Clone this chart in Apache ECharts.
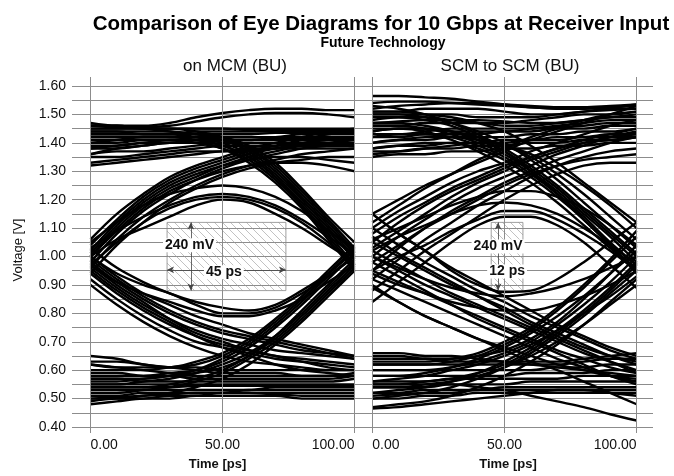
<!DOCTYPE html>
<html>
<head>
<meta charset="utf-8">
<script src="https://cdn.jsdelivr.net/npm/echarts@6/dist/echarts.min.js"></script>
<style>
html, body { margin: 0; padding: 0; background: #fff; }
#main { width: 674px; height: 476px; }
</style>
</head>
<body>
<div id="main"></div>
<script>
var myChart = echarts.init(document.getElementById('main'));

// sample times of every trace, ps
var timePs = [0, 10, 20, 30, 40, 50, 60, 70, 80, 90, 100];
var timeTicks = [0, 50, 100];

// ---- on MCM (BU) : traces, volts at timePs ----
var mcmHigh = [
    [1.47, 1.46, 1.46, 1.47, 1.49, 1.505, 1.515, 1.52, 1.52, 1.515, 1.515],
    [1.46, 1.455, 1.455, 1.46, 1.475, 1.49, 1.50, 1.505, 1.505, 1.50, 1.49],
    [1.45, 1.45, 1.45, 1.45, 1.45, 1.45, 1.45, 1.45, 1.45, 1.45, 1.45],
    [1.46, 1.46, 1.45, 1.45, 1.45, 1.45, 1.445, 1.445, 1.445, 1.445, 1.445],
    [1.44, 1.44, 1.43, 1.43, 1.44, 1.44, 1.44, 1.44, 1.44, 1.44, 1.44],
    [1.43, 1.43, 1.43, 1.43, 1.43, 1.43, 1.43, 1.435, 1.435, 1.435, 1.435],
    [1.42, 1.42, 1.42, 1.42, 1.42, 1.42, 1.42, 1.42, 1.43, 1.43, 1.43],
    [1.40, 1.40, 1.41, 1.41, 1.41, 1.42, 1.42, 1.42, 1.42, 1.42, 1.42],
    [1.39, 1.39, 1.40, 1.40, 1.41, 1.41, 1.41, 1.415, 1.415, 1.415, 1.415],
    [1.38, 1.38, 1.39, 1.40, 1.40, 1.41, 1.41, 1.41, 1.41, 1.41, 1.41],
    [1.36, 1.37, 1.37, 1.38, 1.39, 1.40, 1.40, 1.40, 1.40, 1.40, 1.40],
    [1.35, 1.35, 1.36, 1.37, 1.38, 1.39, 1.39, 1.39, 1.395, 1.395, 1.395],
    [1.33, 1.34, 1.35, 1.36, 1.37, 1.37, 1.38, 1.38, 1.39, 1.39, 1.39],
    [1.32, 1.33, 1.34, 1.35, 1.36, 1.37, 1.37, 1.38, 1.38, 1.38, 1.38]
];
var mcmFallIn = [
    [1.45, 1.45, 1.45, 1.45, 1.44, 1.42, 1.38, 1.31, 1.22, 1.12, 1.02],
    [1.43, 1.43, 1.43, 1.43, 1.42, 1.40, 1.36, 1.29, 1.20, 1.10, 1.00],
    [1.46, 1.46, 1.45, 1.44, 1.43, 1.41, 1.37, 1.30, 1.21, 1.11, 1.01],
    [1.40, 1.41, 1.42, 1.42, 1.41, 1.39, 1.35, 1.28, 1.19, 1.09, 0.99],
    [1.38, 1.39, 1.40, 1.41, 1.41, 1.39, 1.35, 1.28, 1.18, 1.08, 0.97],
    [1.44, 1.44, 1.44, 1.44, 1.43, 1.42, 1.39, 1.33, 1.24, 1.14, 1.05],
    [1.36, 1.38, 1.39, 1.40, 1.40, 1.38, 1.33, 1.26, 1.17, 1.06, 0.95],
    [1.42, 1.42, 1.42, 1.42, 1.42, 1.41, 1.38, 1.32, 1.23, 1.13, 1.03],
    [1.41, 1.41, 1.41, 1.41, 1.40, 1.38, 1.34, 1.27, 1.18, 1.07, 0.96]
];
var mcmRiseOut = [
    [1.02, 1.12, 1.20, 1.26, 1.30, 1.33, 1.36, 1.38, 1.40, 1.41, 1.42],
    [1.00, 1.10, 1.18, 1.24, 1.28, 1.32, 1.35, 1.37, 1.39, 1.40, 1.41],
    [0.98, 1.08, 1.16, 1.22, 1.27, 1.31, 1.34, 1.36, 1.38, 1.39, 1.40],
    [1.04, 1.13, 1.21, 1.27, 1.31, 1.34, 1.37, 1.39, 1.41, 1.43, 1.44],
    [0.96, 1.06, 1.14, 1.20, 1.25, 1.29, 1.32, 1.34, 1.36, 1.37, 1.38],
    [1.06, 1.15, 1.22, 1.28, 1.32, 1.35, 1.38, 1.40, 1.42, 1.44, 1.45],
    [0.94, 1.04, 1.12, 1.19, 1.24, 1.28, 1.31, 1.33, 1.34, 1.35, 1.35],
    [1.00, 1.09, 1.17, 1.23, 1.27, 1.30, 1.32, 1.33, 1.33, 1.32, 1.30],
    [1.01, 1.11, 1.19, 1.25, 1.29, 1.32, 1.34, 1.35, 1.35, 1.34, 1.33]
];
var mcmTopArc = [
    [1.00, 1.06, 1.10, 1.14, 1.18, 1.20, 1.19, 1.15, 1.10, 1.04, 0.98],
    [1.03, 1.09, 1.14, 1.18, 1.21, 1.22, 1.21, 1.18, 1.13, 1.07, 1.01],
    [0.97, 1.05, 1.12, 1.17, 1.20, 1.21, 1.20, 1.17, 1.12, 1.05, 0.97],
    [1.05, 1.12, 1.18, 1.22, 1.24, 1.25, 1.24, 1.21, 1.16, 1.09, 1.03]
];
var mcmFallOut = [
    [0.98, 0.91, 0.85, 0.80, 0.76, 0.73, 0.71, 0.69, 0.67, 0.66, 0.65],
    [0.96, 0.89, 0.83, 0.78, 0.74, 0.71, 0.69, 0.67, 0.66, 0.65, 0.64],
    [1.00, 0.93, 0.87, 0.83, 0.79, 0.76, 0.73, 0.71, 0.69, 0.67, 0.65],
    [0.94, 0.87, 0.81, 0.76, 0.72, 0.69, 0.67, 0.65, 0.64, 0.63, 0.62],
    [0.92, 0.85, 0.79, 0.74, 0.70, 0.68, 0.66, 0.64, 0.63, 0.62, 0.61],
    [0.97, 0.90, 0.84, 0.78, 0.73, 0.70, 0.67, 0.65, 0.63, 0.61, 0.60],
    [0.95, 0.88, 0.82, 0.77, 0.72, 0.68, 0.65, 0.62, 0.60, 0.59, 0.58],
    [0.90, 0.83, 0.77, 0.72, 0.68, 0.65, 0.63, 0.62, 0.61, 0.60, 0.60],
    [0.99, 0.92, 0.86, 0.81, 0.77, 0.74, 0.72, 0.70, 0.68, 0.66, 0.64]
];
var mcmRiseIn = [
    [0.55, 0.55, 0.56, 0.57, 0.59, 0.62, 0.66, 0.72, 0.80, 0.89, 0.98],
    [0.58, 0.58, 0.58, 0.59, 0.60, 0.63, 0.68, 0.75, 0.83, 0.92, 1.01],
    [0.52, 0.52, 0.53, 0.54, 0.56, 0.59, 0.64, 0.70, 0.78, 0.87, 0.96],
    [0.60, 0.60, 0.60, 0.61, 0.62, 0.65, 0.70, 0.77, 0.85, 0.94, 1.03],
    [0.54, 0.54, 0.54, 0.55, 0.57, 0.60, 0.65, 0.71, 0.79, 0.88, 0.97],
    [0.62, 0.61, 0.61, 0.61, 0.63, 0.66, 0.71, 0.78, 0.86, 0.95, 1.04],
    [0.50, 0.50, 0.51, 0.52, 0.54, 0.57, 0.62, 0.69, 0.77, 0.86, 0.95],
    [0.56, 0.56, 0.57, 0.58, 0.60, 0.64, 0.69, 0.76, 0.84, 0.93, 1.00],
    [0.57, 0.57, 0.57, 0.58, 0.59, 0.61, 0.65, 0.72, 0.81, 0.90, 0.99]
];
var mcmBottomArc = [
    [1.00, 0.94, 0.90, 0.87, 0.83, 0.80, 0.80, 0.82, 0.87, 0.93, 1.00],
    [0.97, 0.91, 0.87, 0.84, 0.81, 0.79, 0.79, 0.81, 0.85, 0.91, 0.97],
    [1.03, 0.96, 0.91, 0.87, 0.84, 0.82, 0.81, 0.83, 0.88, 0.94, 1.02]
];
var mcmLow = [
    [0.48, 0.49, 0.50, 0.50, 0.51, 0.51, 0.51, 0.51, 0.50, 0.50, 0.50],
    [0.49, 0.50, 0.50, 0.51, 0.51, 0.52, 0.52, 0.52, 0.52, 0.52, 0.52],
    [0.50, 0.505, 0.51, 0.515, 0.52, 0.52, 0.52, 0.515, 0.51, 0.51, 0.51],
    [0.51, 0.51, 0.52, 0.52, 0.52, 0.52, 0.53, 0.53, 0.53, 0.53, 0.53],
    [0.53, 0.53, 0.53, 0.53, 0.53, 0.53, 0.53, 0.54, 0.54, 0.54, 0.54],
    [0.54, 0.54, 0.54, 0.54, 0.545, 0.545, 0.545, 0.545, 0.545, 0.545, 0.545],
    [0.55, 0.55, 0.55, 0.55, 0.55, 0.55, 0.55, 0.55, 0.55, 0.55, 0.55],
    [0.57, 0.57, 0.56, 0.56, 0.56, 0.56, 0.56, 0.56, 0.56, 0.56, 0.57],
    [0.59, 0.59, 0.58, 0.58, 0.57, 0.57, 0.57, 0.57, 0.57, 0.57, 0.58],
    [0.62, 0.61, 0.60, 0.59, 0.58, 0.58, 0.58, 0.58, 0.58, 0.58, 0.59],
    [0.65, 0.64, 0.62, 0.61, 0.60, 0.59, 0.59, 0.59, 0.58, 0.58, 0.58],
    [0.63, 0.63, 0.62, 0.61, 0.61, 0.60, 0.60, 0.60, 0.60, 0.60, 0.60]
];

// ---- SCM to SCM (BU) ----
var scmHigh = [
    [1.565, 1.565, 1.56, 1.555, 1.545, 1.535, 1.525, 1.52, 1.52, 1.525, 1.53],
    [1.54, 1.545, 1.545, 1.54, 1.535, 1.53, 1.525, 1.52, 1.52, 1.525, 1.535],
    [1.52, 1.53, 1.535, 1.54, 1.54, 1.535, 1.53, 1.525, 1.525, 1.53, 1.535],
    [1.51, 1.51, 1.52, 1.52, 1.52, 1.51, 1.50, 1.50, 1.51, 1.515, 1.52],
    [1.50, 1.50, 1.50, 1.50, 1.49, 1.49, 1.49, 1.50, 1.51, 1.52, 1.52],
    [1.48, 1.49, 1.49, 1.48, 1.47, 1.47, 1.48, 1.49, 1.50, 1.50, 1.51],
    [1.47, 1.475, 1.48, 1.48, 1.48, 1.475, 1.47, 1.47, 1.48, 1.49, 1.50],
    [1.46, 1.46, 1.47, 1.47, 1.47, 1.46, 1.46, 1.47, 1.48, 1.49, 1.49],
    [1.44, 1.45, 1.45, 1.44, 1.44, 1.44, 1.45, 1.46, 1.47, 1.48, 1.48],
    [1.43, 1.43, 1.44, 1.45, 1.45, 1.45, 1.45, 1.455, 1.46, 1.47, 1.47],
    [1.42, 1.42, 1.43, 1.43, 1.43, 1.44, 1.44, 1.45, 1.45, 1.46, 1.46],
    [1.40, 1.41, 1.41, 1.42, 1.42, 1.42, 1.43, 1.43, 1.44, 1.44, 1.45],
    [1.38, 1.39, 1.39, 1.40, 1.40, 1.41, 1.41, 1.42, 1.42, 1.43, 1.43],
    [1.37, 1.37, 1.38, 1.39, 1.40, 1.40, 1.41, 1.41, 1.42, 1.42, 1.42],
    [1.36, 1.37, 1.38, 1.38, 1.39, 1.39, 1.40, 1.40, 1.41, 1.41, 1.42],
    [1.35, 1.36, 1.36, 1.37, 1.37, 1.38, 1.38, 1.39, 1.39, 1.40, 1.40]
];
var scmFallIn = [
    [1.50, 1.50, 1.49, 1.47, 1.44, 1.40, 1.34, 1.27, 1.19, 1.11, 1.03],
    [1.47, 1.47, 1.46, 1.44, 1.41, 1.37, 1.31, 1.24, 1.16, 1.08, 1.00],
    [1.44, 1.45, 1.45, 1.44, 1.42, 1.39, 1.35, 1.29, 1.22, 1.14, 1.06],
    [1.53, 1.52, 1.50, 1.47, 1.43, 1.38, 1.32, 1.25, 1.17, 1.09, 1.01],
    [1.42, 1.43, 1.43, 1.42, 1.39, 1.35, 1.29, 1.22, 1.14, 1.05, 0.97],
    [1.46, 1.46, 1.45, 1.43, 1.40, 1.36, 1.30, 1.23, 1.15, 1.07, 0.98],
    [1.40, 1.41, 1.42, 1.42, 1.41, 1.39, 1.36, 1.31, 1.25, 1.18, 1.10],
    [1.38, 1.39, 1.40, 1.40, 1.38, 1.34, 1.28, 1.21, 1.13, 1.04, 0.95],
    [1.49, 1.49, 1.48, 1.46, 1.42, 1.37, 1.30, 1.22, 1.13, 1.04, 0.94],
    [1.45, 1.45, 1.44, 1.41, 1.37, 1.32, 1.26, 1.19, 1.11, 1.03, 0.96],
    [1.51, 1.51, 1.50, 1.49, 1.47, 1.44, 1.39, 1.33, 1.26, 1.19, 1.12]
];
var scmRiseOut = [
    [1.05, 1.12, 1.18, 1.23, 1.27, 1.31, 1.35, 1.38, 1.41, 1.43, 1.45],
    [1.10, 1.16, 1.21, 1.26, 1.30, 1.33, 1.37, 1.40, 1.43, 1.46, 1.48],
    [1.00, 1.07, 1.13, 1.19, 1.24, 1.28, 1.32, 1.36, 1.39, 1.42, 1.44],
    [0.95, 1.03, 1.10, 1.16, 1.21, 1.26, 1.30, 1.34, 1.37, 1.40, 1.42],
    [1.15, 1.20, 1.25, 1.29, 1.33, 1.37, 1.41, 1.44, 1.47, 1.50, 1.53],
    [0.92, 0.99, 1.06, 1.12, 1.18, 1.23, 1.28, 1.32, 1.35, 1.37, 1.38],
    [1.08, 1.14, 1.19, 1.24, 1.28, 1.32, 1.35, 1.38, 1.40, 1.41, 1.42],
    [0.98, 1.04, 1.10, 1.15, 1.20, 1.25, 1.29, 1.32, 1.34, 1.35, 1.36],
    [1.12, 1.18, 1.24, 1.29, 1.34, 1.38, 1.42, 1.45, 1.48, 1.50, 1.51],
    [0.88, 0.95, 1.02, 1.08, 1.14, 1.20, 1.25, 1.29, 1.32, 1.33, 1.33],
    [1.03, 1.09, 1.15, 1.21, 1.26, 1.30, 1.34, 1.37, 1.40, 1.42, 1.43]
];
var scmTopArc = [
    [0.84, 0.91, 0.98, 1.05, 1.11, 1.14, 1.14, 1.11, 1.05, 0.97, 0.89],
    [0.95, 1.00, 1.04, 1.09, 1.13, 1.16, 1.16, 1.13, 1.08, 1.02, 0.95],
    [1.02, 1.07, 1.11, 1.15, 1.18, 1.19, 1.18, 1.15, 1.10, 1.04, 0.97],
    [1.06, 1.10, 1.14, 1.18, 1.21, 1.23, 1.23, 1.21, 1.17, 1.11, 1.04]
];
var scmFallOut = [
    [1.00, 0.95, 0.90, 0.86, 0.82, 0.78, 0.74, 0.70, 0.66, 0.63, 0.60],
    [1.05, 1.00, 0.95, 0.90, 0.86, 0.82, 0.77, 0.73, 0.69, 0.65, 0.62],
    [0.95, 0.91, 0.87, 0.83, 0.79, 0.75, 0.71, 0.67, 0.64, 0.61, 0.59],
    [1.10, 1.04, 0.98, 0.93, 0.88, 0.84, 0.79, 0.75, 0.71, 0.67, 0.64],
    [0.92, 0.88, 0.84, 0.80, 0.76, 0.72, 0.68, 0.64, 0.61, 0.58, 0.56],
    [1.15, 1.08, 1.02, 0.96, 0.91, 0.86, 0.81, 0.76, 0.72, 0.68, 0.65],
    [0.98, 0.93, 0.88, 0.83, 0.78, 0.74, 0.70, 0.66, 0.62, 0.58, 0.55],
    [1.02, 0.97, 0.92, 0.87, 0.83, 0.79, 0.75, 0.71, 0.67, 0.63, 0.59],
    [0.89, 0.84, 0.79, 0.75, 0.71, 0.67, 0.63, 0.60, 0.56, 0.52, 0.48],
    [0.90, 0.84, 0.79, 0.75, 0.71, 0.68, 0.65, 0.62, 0.60, 0.58, 0.57],
    [1.07, 1.01, 0.96, 0.91, 0.86, 0.81, 0.76, 0.72, 0.68, 0.65, 0.63]
];
var scmRiseIn = [
    [0.55, 0.55, 0.56, 0.57, 0.59, 0.62, 0.67, 0.73, 0.80, 0.88, 0.97],
    [0.60, 0.60, 0.60, 0.61, 0.63, 0.66, 0.70, 0.76, 0.83, 0.91, 1.00],
    [0.52, 0.53, 0.54, 0.56, 0.59, 0.63, 0.68, 0.74, 0.81, 0.89, 0.98],
    [0.65, 0.65, 0.64, 0.64, 0.65, 0.67, 0.71, 0.77, 0.85, 0.94, 1.04],
    [0.58, 0.58, 0.59, 0.61, 0.64, 0.68, 0.73, 0.79, 0.86, 0.94, 1.02],
    [0.50, 0.51, 0.52, 0.54, 0.57, 0.61, 0.66, 0.72, 0.79, 0.87, 0.95],
    [0.62, 0.62, 0.62, 0.63, 0.65, 0.69, 0.74, 0.81, 0.89, 0.98, 1.07],
    [0.56, 0.57, 0.58, 0.60, 0.62, 0.65, 0.69, 0.74, 0.80, 0.86, 0.93],
    [0.54, 0.54, 0.55, 0.56, 0.58, 0.61, 0.65, 0.70, 0.76, 0.83, 0.90],
    [0.47, 0.48, 0.49, 0.51, 0.54, 0.58, 0.63, 0.69, 0.76, 0.84, 0.92],
    [0.63, 0.63, 0.63, 0.64, 0.66, 0.70, 0.75, 0.82, 0.90, 0.99, 1.09]
];
var scmBottomArc = [
    [1.15, 1.08, 1.02, 0.95, 0.90, 0.875, 0.88, 0.92, 0.98, 1.05, 1.12],
    [1.00, 0.96, 0.92, 0.89, 0.87, 0.86, 0.87, 0.89, 0.92, 0.96, 1.00],
    [0.94, 0.90, 0.87, 0.84, 0.82, 0.81, 0.81, 0.83, 0.86, 0.90, 0.95]
];
var scmLow = [
    [0.465, 0.47, 0.48, 0.49, 0.50, 0.51, 0.52, 0.53, 0.53, 0.52, 0.51],
    [0.50, 0.50, 0.51, 0.51, 0.52, 0.52, 0.52, 0.52, 0.52, 0.52, 0.52],
    [0.51, 0.515, 0.52, 0.52, 0.53, 0.53, 0.53, 0.53, 0.53, 0.53, 0.53],
    [0.52, 0.52, 0.53, 0.53, 0.53, 0.54, 0.54, 0.54, 0.54, 0.54, 0.54],
    [0.54, 0.54, 0.54, 0.55, 0.55, 0.55, 0.56, 0.56, 0.56, 0.56, 0.56],
    [0.56, 0.56, 0.56, 0.57, 0.57, 0.57, 0.57, 0.57, 0.58, 0.58, 0.58],
    [0.58, 0.58, 0.58, 0.58, 0.58, 0.58, 0.59, 0.59, 0.59, 0.60, 0.60],
    [0.60, 0.60, 0.60, 0.60, 0.60, 0.60, 0.60, 0.61, 0.61, 0.62, 0.62],
    [0.62, 0.62, 0.62, 0.62, 0.62, 0.62, 0.62, 0.62, 0.63, 0.64, 0.64],
    [0.64, 0.64, 0.64, 0.63, 0.63, 0.63, 0.63, 0.63, 0.64, 0.65, 0.66],
    [0.66, 0.66, 0.65, 0.65, 0.64, 0.63, 0.62, 0.61, 0.60, 0.59, 0.58],
    [0.55, 0.55, 0.55, 0.55, 0.54, 0.53, 0.51, 0.49, 0.47, 0.445, 0.423]
];

// eye openings marked in the plot: [time from, time to], [volt from, volt to]
var mcmBoxTime = [29, 74], mcmBoxVolt = [0.88, 1.12];
var scmBoxTime = [45, 57], scmBoxVolt = [0.88, 1.12];
var mcmArrowTime = 38, mcmArrowVolt = 0.953;
var scmArrowTime = 47.6, scmArrowVolt = 0.947;
var mcmNotes = [['240 mV', 37.5, 1.04], ['45 ps', 50.5, 0.945]];
var scmNotes = [['240 mV', 47.6, 1.035], ['12 ps', 51, 0.947]];

function hatch() {
    var c = document.createElement('canvas');
    c.width = 8; c.height = 8;
    var ctx = c.getContext('2d');
    ctx.strokeStyle = '#999';
    ctx.lineWidth = 0.6;
    ctx.beginPath();
    ctx.moveTo(0, 0); ctx.lineTo(8, 8);
    ctx.moveTo(-1, 7); ctx.lineTo(1, 9);
    ctx.moveTo(7, -1); ctx.lineTo(9, 1);
    ctx.stroke();
    return c;
}
var hatchImg = hatch();

function traces(list, idx) {
    return list.map(function (v) {
        return {
            type: 'line', xAxisIndex: idx, yAxisIndex: idx,
            data: timePs.map(function (t, i) { return [t, v[i]]; }),
            smooth: 0.35, symbol: 'none', silent: true, z: 3,
            lineStyle: {color: '#000', width: 2.4}
        };
    });
}

function gridLines(idx) {
    return {
        type: 'line', xAxisIndex: idx, yAxisIndex: idx, data: [], silent: true, z: 1,
        markLine: {
            silent: true, symbol: 'none', animation: false,
            label: {show: false},
            lineStyle: {color: '#8c8c8c', width: 1, type: 'solid'},
            data: timeTicks.map(function (t) { return {xAxis: t}; })
        }
    };
}

function marks(idx, bt, bv, at, av, notes) {
    return {
        type: 'line', xAxisIndex: idx, yAxisIndex: idx, data: [], silent: true, z: 5,
        markArea: {
            silent: true,
            itemStyle: {color: {image: hatchImg, repeat: 'repeat'}, borderColor: '#888', borderWidth: 0.8},
            data: [[{coord: [bt[0], bv[0]]}, {coord: [bt[1], bv[1]]}]]
        },
        markLine: {
            silent: true, symbol: ['arrow', 'arrow'], symbolSize: [5, 7], animation: false,
            label: {show: false},
            lineStyle: {color: '#444', width: 0.8, type: 'solid'},
            data: [
                [{coord: [at, bv[0]]}, {coord: [at, bv[1]]}],
                [{coord: [bt[0], av]}, {coord: [bt[1], av]}]
            ]
        },
        markPoint: {
            silent: true, symbol: 'rect', symbolSize: 0, animation: false,
            label: {
                show: true, position: 'inside', color: '#111', fontSize: 14, fontWeight: 'bold',
                fontFamily: 'Liberation Sans', backgroundColor: '#fff', padding: [0, 2],
                formatter: function (p) { return p.name; }
            },
            data: notes.map(function (n) { return {name: n[0], coord: [n[1], n[2]]}; })
        }
    };
}

function xAxisFor(idx, min, max, top) {
    return {
        type: 'value', gridIndex: idx, min: min, max: max, position: top ? 'top' : 'bottom',
        axisLine: {show: false},
        splitLine: {show: false},
        axisTick: {show: true, customValues: timeTicks, length: top ? 9 : 6, lineStyle: {color: '#8c8c8c'}},
        axisLabel: top ? {show: false} : {
            show: true, customValues: timeTicks, margin: 11,
            alignMinLabel: 'left', alignMaxLabel: 'right',
            color: '#111', fontSize: 14, fontFamily: 'Liberation Sans',
            formatter: function (v) { return v.toFixed(2); }
        },
        name: top ? '' : 'Time [ps]', nameLocation: 'middle', nameGap: 31,
        nameTextStyle: {color: '#111', fontSize: 13, fontWeight: 'bold', fontFamily: 'Liberation Sans'}
    };
}

function yAxisFor(idx) {
    return {
        type: 'value', gridIndex: idx, min: 0.4, max: 1.6, interval: 0.1,
        axisLine: {show: false},
        axisTick: {show: false},
        splitLine: {show: true, lineStyle: {color: '#8c8c8c', width: 1}},
        minorTick: {show: false, splitNumber: 2},
        minorSplitLine: {show: true, lineStyle: {color: '#8c8c8c', width: 1}},
        axisLabel: {
            show: idx === 0, margin: 6, color: '#111', fontSize: 14, fontFamily: 'Liberation Sans',
            formatter: function (v) { return v.toFixed(2); }
        }
    };
}

var series = [gridLines(0), gridLines(1)]
    .concat(traces(mcmHigh, 0), traces(mcmFallIn, 0), traces(mcmRiseOut, 0), traces(mcmTopArc, 0),
        traces(mcmFallOut, 0), traces(mcmRiseIn, 0), traces(mcmBottomArc, 0), traces(mcmLow, 0))
    .concat(traces(scmHigh, 1), traces(scmFallIn, 1), traces(scmRiseOut, 1), traces(scmTopArc, 1),
        traces(scmFallOut, 1), traces(scmRiseIn, 1), traces(scmBottomArc, 1), traces(scmLow, 1))
    .concat([
        marks(0, mcmBoxTime, mcmBoxVolt, mcmArrowTime, mcmArrowVolt, mcmNotes),
        marks(1, scmBoxTime, scmBoxVolt, scmArrowTime, scmArrowVolt, scmNotes)
    ]);

var option = {
    animation: false,
    backgroundColor: '#fff',
    title: [
        {text: 'Comparison of Eye Diagrams for 10 Gbps at Receiver Input', left: 376, top: 9, textAlign: 'center',
            textStyle: {fontSize: 20.5, fontWeight: 'bold', color: '#000', fontFamily: 'Liberation Sans'}},
        {text: 'Future Technology', left: 378, top: 31, textAlign: 'center',
            textStyle: {fontSize: 14, fontWeight: 'bold', color: '#000', fontFamily: 'Liberation Sans'}},
        {text: 'on MCM (BU)', left: 230, top: 53, textAlign: 'center',
            textStyle: {fontSize: 17, fontWeight: 'normal', color: '#111', fontFamily: 'Liberation Sans'}},
        {text: 'SCM to SCM (BU)', left: 505, top: 53, textAlign: 'center',
            textStyle: {fontSize: 17, fontWeight: 'normal', color: '#111', fontFamily: 'Liberation Sans'}}
    ],
    graphic: [{
        type: 'text', x: 18, y: 250, rotation: Math.PI / 2,
        style: {text: 'Voltage [V]', fill: '#111', fontSize: 13, fontFamily: 'Liberation Sans',
            align: 'center', verticalAlign: 'middle'}
    }],
    grid: [
        {left: 72, right: 311, top: 86, bottom: 37},
        {left: 363, right: 21, top: 86, bottom: 37}
    ],
    xAxis: [
        xAxisFor(0, -7, 103.2, false),
        xAxisFor(1, -3.5, 106.2, false),
        xAxisFor(0, -7, 103.2, true),
        xAxisFor(1, -3.5, 106.2, true)
    ],
    yAxis: [yAxisFor(0), yAxisFor(1)],
    series: series
};
myChart.setOption(option);
</script>
</body>
</html>
